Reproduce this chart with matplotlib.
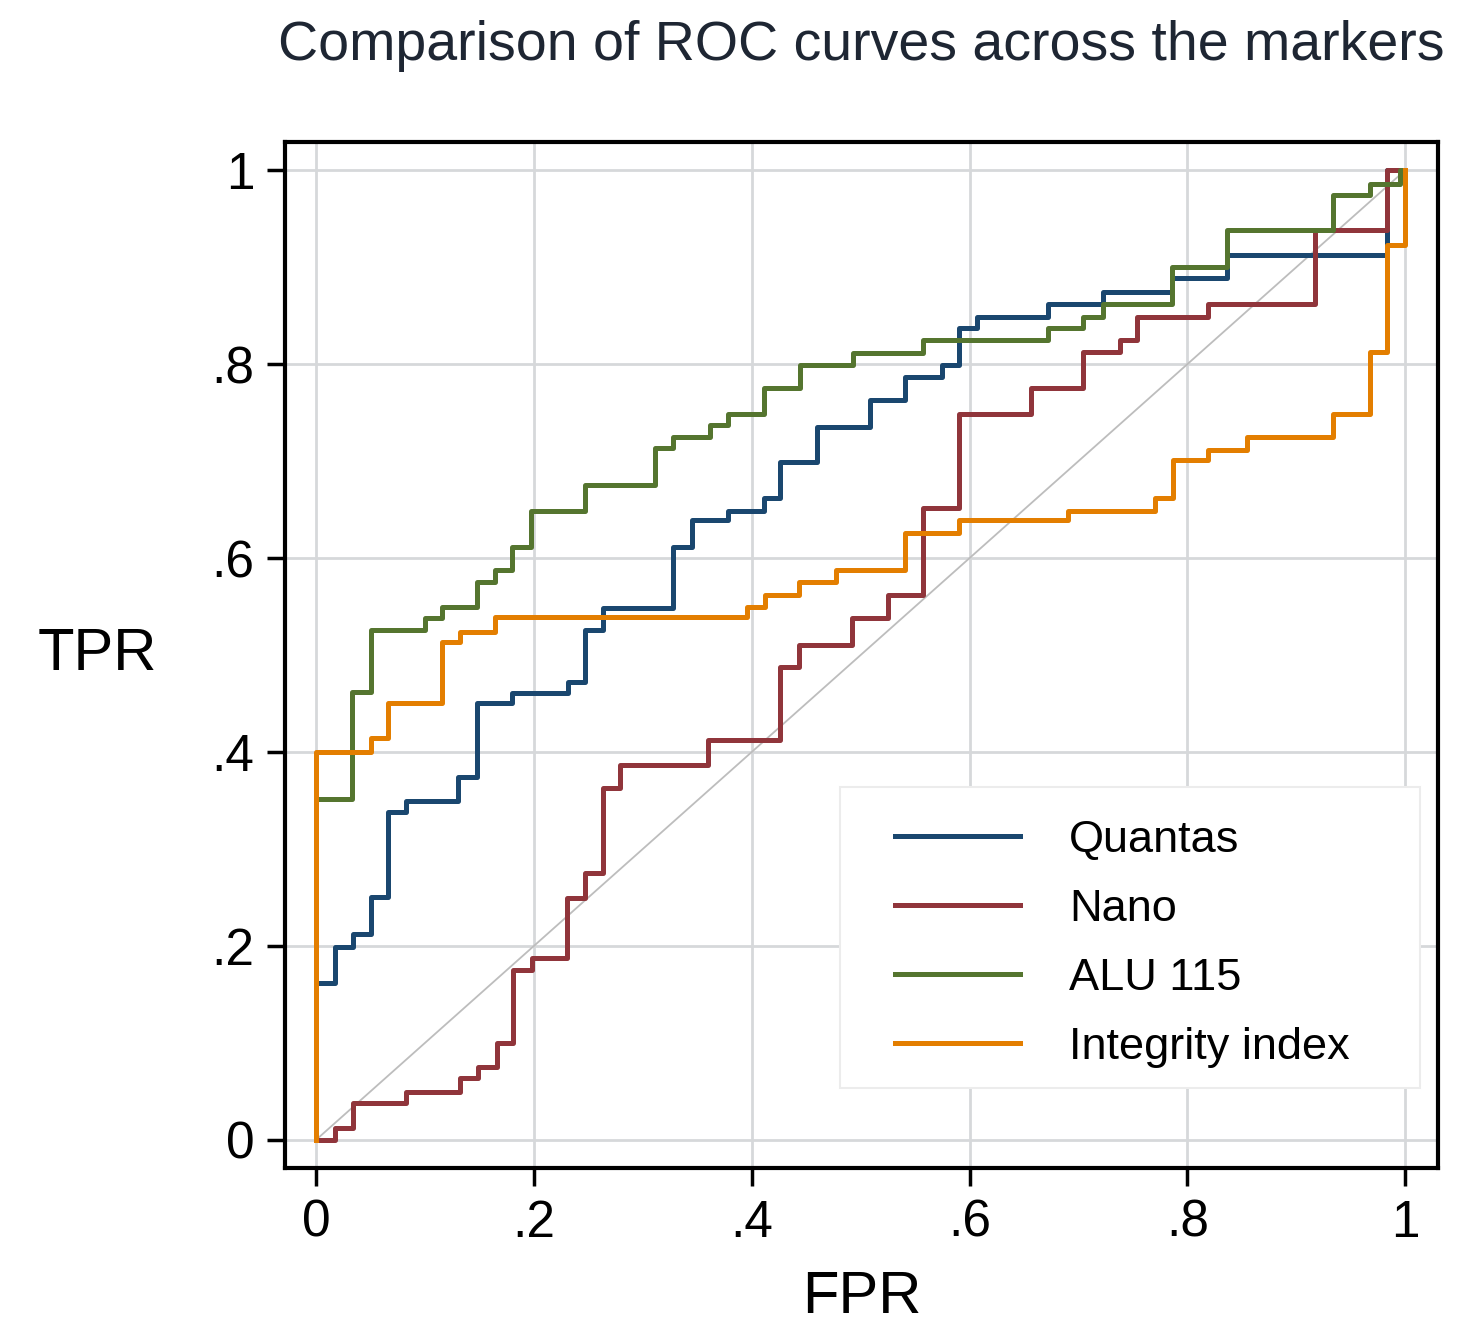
import matplotlib
matplotlib.use("Agg")
import matplotlib.pyplot as plt
from matplotlib.patches import Rectangle

# ---- data (step points: at FPR x the curve jumps to TPR y) ----
quantas_fpr = [0.0, 0.0, 0.017, 0.034, 0.050, 0.066, 0.083, 0.130, 0.148, 0.180, 0.231, 0.247,
               0.263, 0.328, 0.345, 0.378, 0.411, 0.426, 0.460, 0.509, 0.541, 0.575, 0.590,
               0.607, 0.672, 0.722, 0.786, 0.836, 0.983, 1.0]
quantas_tpr = [0.0, 0.162, 0.199, 0.212, 0.250, 0.338, 0.349, 0.374, 0.450, 0.461, 0.472, 0.526,
               0.548, 0.611, 0.639, 0.649, 0.662, 0.699, 0.735, 0.763, 0.787, 0.799, 0.837,
               0.849, 0.862, 0.874, 0.889, 0.912, 1.0, 1.0]

nano_fpr = [0.0, 0.017, 0.034, 0.083, 0.132, 0.149, 0.166, 0.181, 0.198, 0.230, 0.247, 0.263,
            0.279, 0.360, 0.426, 0.443, 0.492, 0.525, 0.557, 0.590, 0.656, 0.704, 0.738,
            0.754, 0.819, 0.917, 0.983, 1.0]
nano_tpr = [0.0, 0.012, 0.038, 0.049, 0.064, 0.075, 0.100, 0.175, 0.188, 0.249, 0.275, 0.363,
            0.387, 0.412, 0.488, 0.510, 0.538, 0.562, 0.652, 0.749, 0.775, 0.812, 0.825,
            0.849, 0.862, 0.938, 1.0, 1.0]

alu_fpr = [0.0, 0.0, 0.033, 0.050, 0.100, 0.116, 0.148, 0.164, 0.180, 0.197, 0.247, 0.311,
           0.328, 0.362, 0.378, 0.411, 0.444, 0.493, 0.557, 0.672, 0.704, 0.722, 0.786,
           0.836, 0.934, 0.968, 0.995, 1.0]
alu_tpr = [0.0, 0.351, 0.462, 0.526, 0.538, 0.549, 0.575, 0.588, 0.611, 0.649, 0.675, 0.713,
           0.725, 0.737, 0.749, 0.775, 0.799, 0.811, 0.825, 0.837, 0.849, 0.862, 0.900,
           0.938, 0.974, 0.986, 1.0, 1.0]

integ_fpr = [0.0, 0.0, 0.050, 0.066, 0.116, 0.132, 0.164, 0.396, 0.412, 0.443, 0.477, 0.541,
             0.590, 0.690, 0.770, 0.787, 0.819, 0.855, 0.934, 0.968, 0.983, 1.0]
integ_tpr = [0.0, 0.400, 0.414, 0.450, 0.513, 0.524, 0.539, 0.550, 0.562, 0.575, 0.588, 0.626,
             0.639, 0.649, 0.662, 0.701, 0.711, 0.725, 0.749, 0.812, 0.923, 1.0]

series_names = ["Quantas", "Nano", "ALU 115", "Integrity index"]
series_colors = ["#1a476f", "#90353b", "#55752f", "#e37e00"]
tick_values = [0, 0.2, 0.4, 0.6, 0.8, 1.0]
tick_labels = ["0", ".2", ".4", ".6", ".8", "1"]

plt.rcParams['font.family'] = ['Liberation Sans', 'DejaVu Sans']

fig = plt.figure(figsize=(14.76, 13.32), dpi=100)
ax = fig.add_axes([285/1476, 1 - 1168/1332, (1438-285)/1476, (1168-142)/1332])

ax.set_xlim(-0.0285, 1.030)
ax.set_ylim(-0.029, 1.029)

ax.set_xticks(tick_values)
ax.set_xticklabels(tick_labels)
ax.set_yticks(tick_values)
ax.set_yticklabels(tick_labels)
ax.grid(True, color="#d6d8da", linewidth=2.0, zorder=0)
ax.set_axisbelow(True)

for s in ax.spines.values():
    s.set_linewidth(3.0)
    s.set_color("black")
ax.tick_params(axis="both", length=13, width=2.5, labelsize=37, pad=9, color="black")

# reference diagonal
ax.plot([0, 1], [0, 1], color="#bdbdbd", linewidth=1.3, zorder=1)

data = [(quantas_fpr, quantas_tpr), (nano_fpr, nano_tpr), (alu_fpr, alu_tpr), (integ_fpr, integ_tpr)]
for (fx, ty), name, col in zip(data, series_names, series_colors):
    ax.plot(fx, ty, drawstyle="steps-post", color=col, linewidth=3.6, label=name, zorder=3)

# legend frame
ax.add_patch(Rectangle((0.4813, 0.078), 0.9844 - 0.4813, 0.3713 - 0.078,
                       transform=ax.transAxes, facecolor="white", edgecolor="#ececec",
                       linewidth=1.5, zorder=4))
leg = ax.legend(loc="upper left", bbox_to_anchor=(0.529, 0.339), borderaxespad=0,
                fontsize=32.5, handlelength=2.76, handletextpad=1.1, borderpad=0,
                labelspacing=0.62, frameon=False)
leg.set_zorder(5)

ax.set_title("Comparison of ROC curves across the markers", fontsize=40, color="#1e2633",
             y=1.085, va="center")
ax.set_xlabel("FPR", fontsize=43, va="center")
ax.set_ylabel("TPR", fontsize=43, rotation=0, va="center", ha="center")
ax.xaxis.set_label_coords(0.5, -0.126)
ax.yaxis.set_label_coords(-0.163, 0.5)

fig.savefig("out.png", dpi=100, facecolor="white")
